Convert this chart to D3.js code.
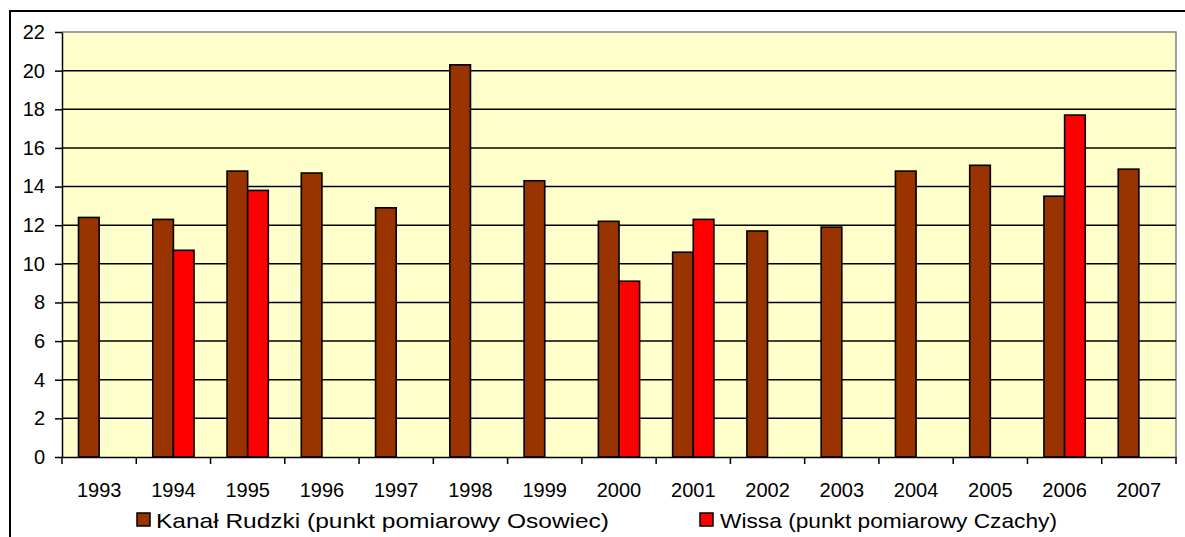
<!DOCTYPE html>
<html>
<head>
<meta charset="utf-8">
<script src="https://cdn.jsdelivr.net/npm/d3@7"></script>
<style>
  html, body { margin: 0; padding: 0; background: #ffffff; }
  svg { display: block; font-family: "Liberation Sans", Arial, sans-serif; }
</style>
</head>
<body>
<svg id="chart" width="1185" height="537"></svg>
<script>
// Years on the category axis
const years = ["1993","1994","1995","1996","1997","1998","1999","2000","2001","2002","2003","2004","2005","2006","2007"];
// Kanał Rudzki (punkt pomiarowy Osowiec)
const rudzki = [12.4, 12.3, 14.8, 14.7, 12.9, 20.3, 14.3, 12.2, 10.6, 11.7, 11.9, 14.8, 15.1, 13.5, 14.9];
// Wissa (punkt pomiarowy Czachy) — measured only in some years
const wissa = [null, 10.7, 13.8, null, null, null, null, 9.1, 12.3, null, null, null, null, 17.7, null];
// Value axis ticks
const yTicks = [0, 2, 4, 6, 8, 10, 12, 14, 16, 18, 20, 22];

const seriesNames = ["Kanał Rudzki (punkt pomiarowy Osowiec)", "Wissa (punkt pomiarowy Czachy)"];
const seriesColors = ["#993300", "#FF0000"];

const svg = d3.select("#chart");
const plot = { left: 62, top: 32, right: 1176, bottom: 457 };

// Chart area frame (left and top edges visible)
svg.append("rect")
  .attr("x", 10).attr("y", 11)
  .attr("width", 1200).attr("height", 600)
  .attr("fill", "#ffffff")
  .attr("stroke", "#000").attr("stroke-width", 2);

const x = d3.scaleBand().domain(years).range([plot.left, plot.right]).paddingInner(0).paddingOuter(0);
const xs = d3.scaleBand().domain([0, 1]).range([0, x.bandwidth()]).paddingInner(0).paddingOuter(0.8);
const y = d3.scaleLinear().domain([0, 22]).range([plot.bottom, plot.top]);

// Plot background
svg.append("rect")
  .attr("x", plot.left).attr("y", plot.top)
  .attr("width", plot.right - plot.left).attr("height", plot.bottom - plot.top)
  .attr("fill", "#FFFFCC");

// Gray plot border on top and right
svg.append("path")
  .attr("d", `M${plot.left},${plot.top}H${plot.right}V${plot.bottom}`)
  .attr("fill", "none").attr("stroke", "#808080").attr("stroke-width", 1.5);

// Horizontal gridlines
svg.append("g")
  .selectAll("line")
  .data(yTicks.filter(t => t > 0 && t < 22))
  .join("line")
  .attr("x1", plot.left).attr("x2", plot.right)
  .attr("y1", d => y(d)).attr("y2", d => y(d))
  .attr("stroke", "#000").attr("stroke-width", 1.5);

// Bars
const barData = [];
years.forEach((yr, i) => {
  [rudzki[i], wissa[i]].forEach((v, s) => {
    if (v != null) barData.push({ yr, s, v });
  });
});
svg.append("g")
  .selectAll("rect")
  .data(barData)
  .join("rect")
  .attr("x", d => x(d.yr) + xs(d.s))
  .attr("y", d => y(d.v))
  .attr("width", xs.bandwidth())
  .attr("height", d => y(0) - y(d.v))
  .attr("fill", d => seriesColors[d.s])
  .attr("stroke", "#000").attr("stroke-width", 1.6);

// Value axis
const yAxis = svg.append("g")
  .attr("transform", `translate(${plot.left},0)`)
  .call(d3.axisLeft(y).tickValues(yTicks).tickSize(7).tickPadding(10).tickSizeOuter(0));
yAxis.select(".domain").attr("stroke", "#000").attr("stroke-width", 1.5);
yAxis.selectAll(".tick line").attr("stroke", "#000").attr("stroke-width", 1.5);
yAxis.selectAll(".tick text")
  .attr("font-family", "Liberation Sans, Arial, sans-serif")
  .attr("font-size", 20).attr("fill", "#000");

// Category axis: labels centred in bands, tick marks on band edges
const xAxis = svg.append("g")
  .attr("transform", `translate(0,${plot.bottom})`)
  .call(d3.axisBottom(x).tickSize(0).tickPadding(26).tickSizeOuter(0));
xAxis.select(".domain").attr("stroke", "#000").attr("stroke-width", 1.5);
xAxis.selectAll(".tick text")
  .attr("font-family", "Liberation Sans, Arial, sans-serif")
  .attr("font-size", 20).attr("fill", "#000");
xAxis.append("g")
  .selectAll("line")
  .data(years.map(d => x(d)).concat([x.range()[1]]))
  .join("line")
  .attr("x1", d => d).attr("x2", d => d)
  .attr("y1", 0).attr("y2", 7)
  .attr("stroke", "#000").attr("stroke-width", 1.5);

// Legend
const legendItems = [
  { sx: 137, tx: 156, tw: 453 },
  { sx: 700, tx: 720, tw: 337 }
];
const legend = svg.append("g");
legendItems.forEach((it, i) => {
  legend.append("rect")
    .attr("x", it.sx).attr("y", 513)
    .attr("width", 13).attr("height", 13)
    .attr("fill", seriesColors[i])
    .attr("stroke", "#000").attr("stroke-width", 1.5);
  legend.append("text")
    .attr("x", it.tx).attr("y", 528)
    .attr("font-size", 21)
    .attr("textLength", it.tw)
    .attr("lengthAdjust", "spacingAndGlyphs")
    .attr("fill", "#000")
    .text(seriesNames[i]);
});
</script>
</body>
</html>
